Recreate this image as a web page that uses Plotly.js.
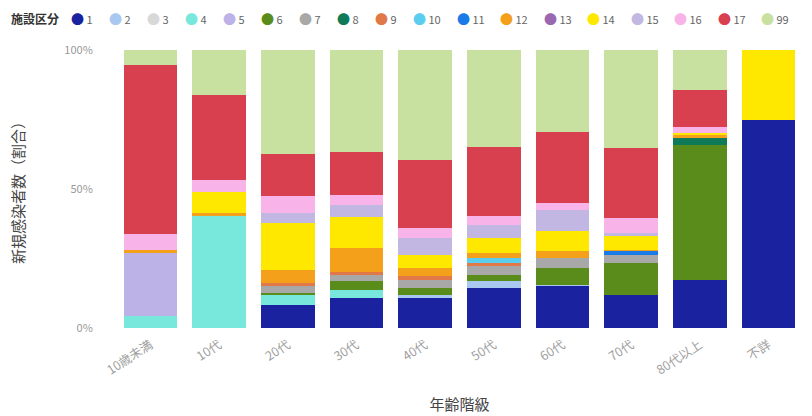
<!DOCTYPE html>
<html>
<head>
<meta charset="utf-8">
<script src="https://cdn.plot.ly/plotly-3.0.1.min.js"></script>
<style>html,body{margin:0;padding:0;background:#fff;}#chart{width:812px;height:416px;}</style>
</head>
<body>
<div id="chart"></div>
<script>
const ageGroups = ['10歳未満','10代','20代','30代','40代','50代','60代','70代','80代以上','不詳'];
const facilityTypes = ['1','2','3','4','5','6','7','8','9','10','11','12','13','14','15','16','17','99'];
const legendTitle = '施設区分';
const yTickValues = [0, 50, 100];
const yTickLabels = ['0%', '50%', '100%'];

// share (%) of new cases by facility type, per age group
const share1  = [0, 0, 8.3, 10.8, 10.8, 14.4, 15, 12, 17.4, 75];
const share2  = [0, 0, 0, 0, 1.2, 2.4, 0.6, 0, 0, 0];
const share3  = [0, 0, 0, 0, 0, 0, 0, 0, 0, 0];
const share4  = [4.2, 40.2, 3.6, 3, 0, 0, 0, 0, 0, 0];
const share5  = [22.8, 0, 0, 0, 0, 0, 0, 0, 0, 0];
const share6  = [0, 0, 0.6, 3, 2.4, 2.4, 6, 11.4, 48.6, 0];
const share7  = [0, 0, 2.5, 2.4, 3, 3, 3.6, 3, 0, 0];
const share8  = [0, 0, 0, 0, 0, 0, 0, 0, 2.4, 0];
const share9  = [0, 0, 1, 1, 1.2, 1.2, 0, 0, 0, 0];
const share10 = [0, 0, 0, 0, 0, 1.8, 0, 0, 0, 0];
const share11 = [0, 0, 0, 0, 0, 0, 0, 1.2, 0, 0];
const share12 = [1, 1.2, 4.8, 8.4, 3, 1.8, 2.4, 0.6, 1.2, 0];
const share13 = [0, 0, 0, 0, 0, 0, 0, 0, 0, 0];
const share14 = [0, 7.8, 16.7, 11.4, 4.8, 5.4, 7.2, 4.8, 0.6, 25];
const share15 = [0, 0, 3.6, 4.2, 6, 4.8, 7.8, 1.2, 0, 0];
const share16 = [5.6, 4.2, 6, 3.6, 3.6, 3, 2.4, 5.4, 2.4, 0];
const share17 = [60.6, 30.6, 15, 15.6, 24.6, 25.2, 25.8, 25.2, 13.2, 0];
const share99 = [5.4, 16.2, 37, 36.6, 39.6, 34.8, 29.4, 35.4, 14.4, 0];

const allShares = [share1, share2, share3, share4, share5, share6, share7, share8, share9,
  share10, share11, share12, share13, share14, share15, share16, share17, share99];

const colors = ['#1a22a0','#a8c8f0','#d8d8d8','#78e8dc','#bcb2e8','#5a8c1c','#a8a8a8','#0e7a58',
  '#e07848','#5bcef0','#1a7ae8','#f5a01a','#9a68b0','#ffe800','#c2b6e2','#f8b4e8','#d84050','#c8e0a0'];

const traces = facilityTypes.map((name, i) => ({
  type: 'bar',
  name: name,
  x: ageGroups,
  y: allShares[i],
  marker: {color: colors[i], line: {width: 0}},
  showlegend: false,
  hoverinfo: 'x+y+name'
}));

// legend drawn as text annotations
const W = 812, H = 416;
const mL = 116, mR = 9, mT = 50, mB = 88;
const pw = W - mL - mR, ph = H - mT - mB;
const px2x = p => (p - mL) / pw;
const py2y = p => (H - mB - p) / ph;

const annotations = [{
  xref: 'paper', yref: 'paper', x: px2x(9), y: py2y(18), xanchor: 'left', yanchor: 'middle',
  text: '<b>' + legendTitle + '</b>', showarrow: false,
  font: {family: 'Noto Sans CJK JP', size: 12, color: '#333'}
}];
let cursor = 69;
facilityTypes.forEach((name, i) => {
  annotations.push({
    xref: 'paper', yref: 'paper', x: px2x(cursor), y: py2y(18), xanchor: 'left', yanchor: 'middle',
    text: '<span style="color:' + colors[i] + ';font-size:13px">●</span> ' + name,
    showarrow: false,
    font: {family: 'Noto Sans CJK JP', size: 11, color: '#666'}
  });
  cursor += name.length > 1 ? 43.5 : 38;
});

const layout = {
  width: W, height: H,
  margin: {l: mL, r: mR, t: mT, b: mB},
  paper_bgcolor: '#fff', plot_bgcolor: '#fff',
  barmode: 'stack', barnorm: 'percent', bargap: 0.22,
  font: {family: 'Noto Sans CJK JP', color: '#999'},
  showlegend: false,
  xaxis: {
    type: 'category',
    tickangle: -33,
    tickfont: {size: 12.5, color: '#a0a0a0'},
    showgrid: false, zeroline: false, showline: false,
    ticks: 'outside', ticklen: 4, tickcolor: 'rgba(0,0,0,0)',
    title: {text: '年齢階級', font: {size: 15, color: '#444'}, standoff: 22},
    automargin: false
  },
  yaxis: {
    range: [0, 100],
    tickmode: 'array',
    tickvals: yTickValues,
    ticktext: yTickLabels,
    tickfont: {size: 11, color: '#999'},
    showgrid: false, zeroline: false, showline: false,
    ticks: 'outside', ticklen: 20, tickcolor: 'rgba(0,0,0,0)',
    title: {text: '新規感染者数（割合）', font: {size: 15, color: '#444'}, standoff: 36},
    automargin: false
  },
  annotations: annotations
};

Plotly.newPlot('chart', traces, layout, {displayModeBar: false, staticPlot: true});
</script>
</body>
</html>
